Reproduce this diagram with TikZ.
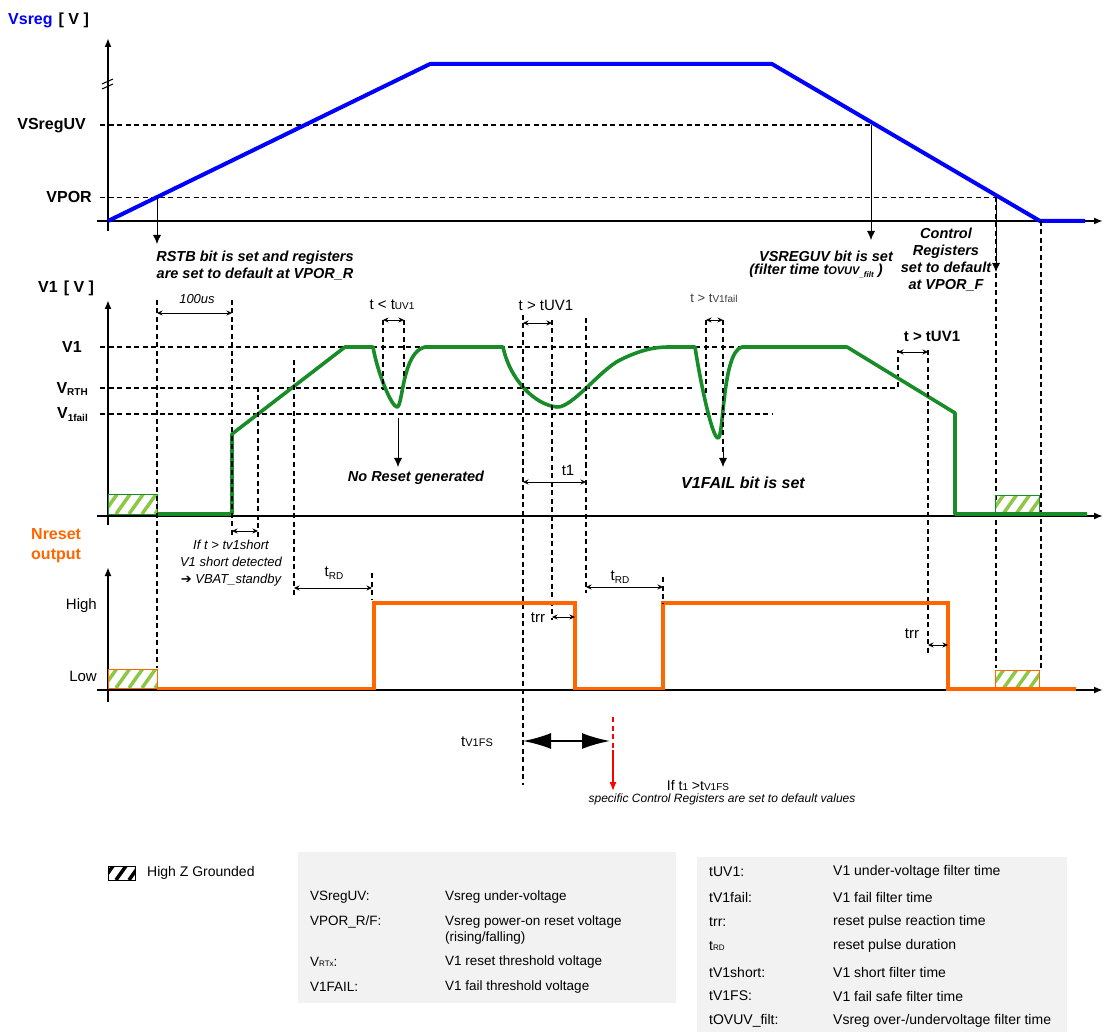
\documentclass[tikz,border=0pt]{standalone}
\usepackage{fontspec}
\setmainfont{Liberation Sans}
\newfontfamily\symfont{DejaVu Sans}
\usetikzlibrary{arrows.meta}
\definecolor{vblue}{RGB}{0,0,255}
\definecolor{vgreen}{RGB}{24,140,40}
\definecolor{hgreen}{RGB}{140,200,70}
\definecolor{vorange}{RGB}{255,102,0}
\definecolor{boxgray}{RGB}{242,242,242}
\definecolor{txtgray}{RGB}{60,60,60}
\newcommand{\fs}[1]{\fontsize{#1}{#1}\selectfont}
\newcommand{\lowsub}[2]{\raisebox{-0.35ex}{\fs{#1}#2}}
\newcommand{\hatchbox}[6]{%
  \begin{scope}
    \clip (#1,#2) rectangle (#3,#4);
    \foreach \k in {0,...,7}{\draw[#6, line width=3.5pt] ({#1+\k*13-18},#4) -- ++(15,-21);}
  \end{scope}
  \draw[#5, line width=1pt] (#1,#2) rectangle (#3,#4);}
\tikzset{
  axis/.style={line width=1.8pt, -{Latex[length=9pt,width=7pt]}},
  dsh/.style={line width=1.2pt, dash pattern=on 5pt off 3.5pt},
  dshthin/.style={line width=0.8pt, dash pattern=on 5pt off 3.5pt},
  dimarr/.style={line width=0.8pt, {Stealth[length=5.5pt,width=5pt]}-{Stealth[length=5.5pt,width=5pt]}},
  downarr/.style={line width=0.8pt, -{Latex[length=9pt,width=8pt]}},
  lbl/.style={font=\fs{16}\bfseries, inner sep=0pt},
  ann/.style={font=\fontsize{14.5}{17}\selectfont\bfseries\itshape, inner sep=0pt, align=center},
  txt/.style={font=\fs{15}, inner sep=0pt},
  leg/.style={font=\fs{13.5}, inner sep=0pt, anchor=west},
  legr/.style={font=\fs{14}, inner sep=0pt, anchor=west},
}
\begin{document}
\begin{tikzpicture}[x=1pt,y=-1pt]
\useasboundingbox (0,0) rectangle (1104,1032);

% ================= Vsreg section =================
\node[lbl, anchor=west] (ttl) at (8,20) {\textcolor{vblue}{Vsreg}\hspace{6pt}[ V ]};
\draw[dsh] (100,125) -- (871,125);
\draw[dshthin] (100,197) -- (996,197);
\draw[axis] (108,231) -- (108,38);
\draw[axis] (97,221) -- (1103,221);
\draw[line width=1pt] (102,84) -- (113,79) (102,89) -- (113,84);
\node[lbl, anchor=east] (lvuv) at (86,126) {VSregUV};
\node[lbl, anchor=east] (lvpor) at (92,197) {VPOR};
\draw[vblue, line width=4pt, line join=round] (108,221) -- (430,64) -- (772,64) -- (1040,221) -- (1085,221);

\coordinate (porR) at (157,197);
\coordinate (porRend) at (157,244);
\draw[downarr] (porR) -- (porRend);
\node[ann] (rstb) at (255,266) {RSTB bit is set and registers\\are set to default at VPOR\_R};

\coordinate (uvF) at (871,125);
\coordinate (uvFend) at (871,240);
\draw[downarr] (uvF) -- (uvFend);
\node[ann] (vsreguv) at (826,256) {VSREGUV bit is set};
\node[ann] (filt) at (816,271) {(filter time t{\fs{11}OVUV}\lowsub{8}{\_filt} )};

\coordinate (porF) at (996,198);
\coordinate (porFend) at (996,272);
\draw[dsh] (996,197) -- (996,668);
\draw[dsh] (1041,221) -- (1041,668);
\draw[downarr] (porF) -- (porFend);
\node[ann] (ctl) at (946,260) {Control\\Registers\\set to default\\at VPOR\_F};

% ================= V1 section =================
\node[lbl, anchor=west] (v1t) at (38,288) {V1\hspace{6pt}[ V ]};
\draw[dsh] (100,347) -- (848,347);
\draw[dsh] (100,388) -- (693,388);
\draw[dsh] (737,388) -- (898,388) -- (898,350);
\draw[dsh] (100,414) -- (772,414);
\draw[axis] (108,525) -- (108,300);
\draw[axis] (97,516) -- (1103,516);
\node[lbl, anchor=east] (lv1) at (82,347) {V1};
\node[lbl, anchor=east] (lvrth) at (88,389) {V\lowsub{10}{RTH}};
\node[lbl, anchor=east] (lv1f) at (88,415) {V\lowsub{10}{1fail}};

\hatchbox{108}{494}{157}{514}{vgreen}{hgreen}
\hatchbox{995}{495}{1039}{514}{vgreen}{hgreen}

\draw[vgreen, line width=3.6pt, line join=round]
  (157,514) -- (232,514) -- (232,434) -- (345,347) -- (373,347)
  .. controls (378,375) and (392,407) .. (397,407)
  .. controls (403,407) and (402,352) .. (425,347)
  -- (503,347)
  .. controls (510,380) and (535,405) .. (557,407)
  .. controls (572,408) and (600,370) .. (620,360)
  .. controls (640,350) and (655,347) .. (668,347)
  -- (695,347)
  .. controls (700,380) and (712,438) .. (718,438)
  .. controls (724,438) and (722,352) .. (742,347)
  -- (847,347) -- (955,413) -- (955,514) -- (1087,514);

% markers left
\draw[dsh] (157,300) -- (157,668);
\draw[dsh] (232,300) -- (232,537);
\draw[dimarr] (157,313) -- (232,313);
\node[font=\fs{13}\itshape, inner sep=0pt] (us) at (197,299) {100us};
\draw[dsh] (258,387) -- (258,537);
\draw[dimarr] (232,531) -- (258,531);
\node[font=\fontsize{13}{17}\selectfont\itshape, inner sep=0pt, align=center] (short) at (231,563)
  {If t > tv1short\\V1 short detected\\{\symfont ➔} VBAT\_standby};
\draw[dsh] (294,360) -- (294,595);
\draw[dimarr] (294,588) -- (372,588);
\draw[dsh] (372,573) -- (372,600);
\node[txt] (trd1) at (334,573) {t\lowsub{10}{RD}};

% dip 1
\draw[dsh] (383,320) -- (383,390);
\draw[dsh] (404,320) -- (404,378);
\draw[dimarr] (383,320) -- (404,320);
\node[txt] (tuv1a) at (392,305) {t < t{\fs{10}UV1}};
\coordinate (dip1) at (398,418);
\coordinate (dip1end) at (398,467);
\draw[downarr] (dip1) -- (dip1end);
\node[ann] (noreset) at (416,478) {No Reset generated};

% dip 2
\draw[dsh] (523,315) -- (523,785);
\draw[dsh] (552,320) -- (552,620);
\draw[dsh] (586,318) -- (586,593);
\draw[dimarr] (523,323) -- (552,323);
\node[txt] (tuv1b) at (546,305) {t > tUV1};
\draw[dimarr] (523,482) -- (586,482);
\node[txt] (t1) at (568,470) {t1};

% dip 3
\draw[dsh] (706,320) -- (706,396);
\draw[dsh] (723,320) -- (723,455);
\draw[dimarr] (706,320) -- (723,320);
\node[font=\fs{13}, text=txtgray, inner sep=0pt] (tfail) at (714,298) {t > t{\fs{10}V1fail}};
\coordinate (dip3) at (723,448);
\coordinate (dip3end) at (723,467);
\draw[downarr] (dip3) -- (dip3end);
\node[ann, font=\fs{16}\bfseries\itshape] (v1fail) at (743,483) {V1FAIL bit is set};

% ramp down marker
\node[lbl, font=\fs{15}\bfseries] (tuv1c) at (932,336) {t > tUV1};
\draw[dimarr] (898,352) -- (928,352);
\draw[dsh] (928,350) -- (928,655);

% ================= Nreset section =================
\node[lbl, anchor=west, text=vorange] (nr1) at (31,534) {Nreset};
\node[lbl, anchor=west, text=vorange] (nr2) at (31,556) {output};
\draw[axis] (108,702) -- (108,567);
\draw[axis] (97,690) -- (1103,690);
\node[txt, anchor=east] (hi) at (97,606) {High};
\node[txt, anchor=east] (lo) at (97,676) {Low};
\hatchbox{108}{669}{157}{688}{vorange}{hgreen}
\hatchbox{995}{670}{1039}{689}{vorange}{hgreen}

\draw[vorange, line width=2.2pt] (157,688.5) -- (374,688.5);
\draw[vorange, line width=2.2pt] (575,688.5) -- (663,688.5);
\draw[vorange, line width=4pt, line join=miter]
  (374,689.5) -- (374,603) -- (575,603) -- (575,689.5);
\draw[vorange, line width=4pt, line join=miter]
  (663,689.5) -- (663,603) -- (948,603) -- (948,689) -- (1076,689);

\draw[dimarr] (552,617) -- (575,617);
\node[txt] (trr1) at (538,618) {trr};
\draw[dimarr] (586,587) -- (663,587);
\draw[dsh] (663,577) -- (663,603);
\node[txt] (trd2) at (620,577) {t\lowsub{10}{RD}};
\draw[dimarr] (928,645) -- (948,645);
\node[txt] (trr2) at (912,634) {trr};

% ================= bottom =================
\node[txt] (tv1fs) at (477,742) {t{\fs{11}V1FS}};
\draw[line width=2pt, {Latex[length=28pt,width=16pt]}-{Latex[length=28pt,width=16pt]}] (523,741) -- (610,741);
\draw[red, dsh] (613,717) -- (613,752);
\coordinate (redA) at (613,750);
\coordinate (redB) at (613,791);
\draw[red, line width=1.2pt, -{Latex[length=9pt,width=7pt]}] (redA) -- (redB);
\node[font=\fs{14}, inner sep=0pt] (ift) at (698,785) {If t{\fs{10}1} >t{\fs{10}V1FS}};
\node[font=\fs{12}\itshape, inner sep=0pt] (spec) at (722,799) {specific Control Registers are set to default values};

% ================= legend =================
\fill[white] (108,866) rectangle (135,880);
\hatchbox{108}{866}{135}{880}{black}{black}
\node[legr] (hz) at (147,873) {High Z Grounded};

\fill[boxgray] (298,852) rectangle (676,1003);
\node[leg] (a1) at (310,897) {VSregUV:};
\node[leg] (b1) at (445,897) {Vsreg under-voltage};
\node[leg] (a2) at (310,922) {VPOR\_R/F:};
\node[leg] (b2) at (445,922) {Vsreg power-on reset voltage};
\node[leg] (b2b) at (445,938) {(rising/falling)};
\node[leg] (a3) at (310,962) {V{\fs{8}RTx}:};
\node[leg] (b3) at (445,962) {V1 reset threshold voltage};
\node[leg] (a4) at (310,987) {V1FAIL:};
\node[leg] (b4) at (445,987) {V1 fail threshold voltage};

\fill[boxgray] (697,857) rectangle (1067,1032);
\node[legr] (c1) at (709,872) {tUV1:};
\node[legr] (d1) at (833,872) {V1 under-voltage filter time};
\node[legr] (c2) at (709,897) {tV1fail:};
\node[legr] (d2) at (833,897) {V1 fail filter time};
\node[legr] (c3) at (709,922) {trr:};
\node[legr] (d3) at (833,922) {reset pulse reaction time};
\node[legr] (c4) at (709,946) {t{\fs{8}RD}};
\node[legr] (d4) at (833,946) {reset pulse duration};
\node[legr] (c5) at (709,972) {tV1short:};
\node[legr] (d5) at (833,972) {V1 short filter time};
\node[legr] (c6) at (709,996) {tV1FS:};
\node[legr] (d6) at (833,996) {V1 fail safe filter time};
\node[legr] (c7) at (709,1021) {tOVUV\_filt:};
\node[legr] (d7) at (833,1021) {Vsreg over-/undervoltage filter time};
\end{tikzpicture}
\end{document}
